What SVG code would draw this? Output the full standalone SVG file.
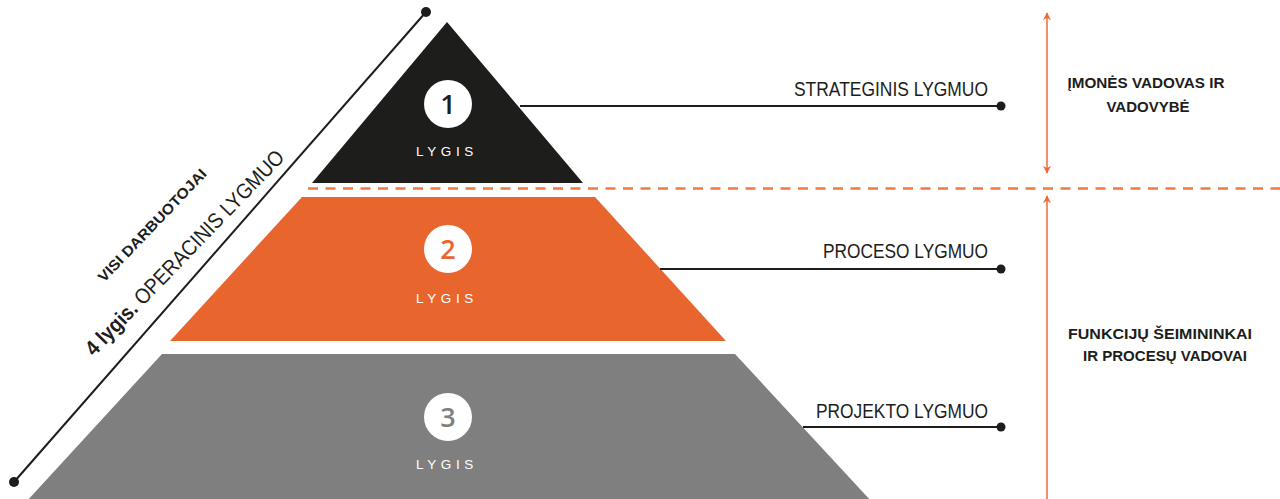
<svg xmlns="http://www.w3.org/2000/svg" width="1280" height="499" viewBox="0 0 1280 499">
<defs>
<style>
.lyg{font-family:"Liberation Sans",Arial,sans-serif;font-size:13.5px;fill:#ffffff;letter-spacing:4.6px;text-anchor:middle}
.num{font-family:"Open Sans","Liberation Sans",sans-serif;font-weight:600;font-size:27px;text-anchor:middle}
.lvl{font-family:"Liberation Sans",Arial,sans-serif;font-size:19.5px;fill:#1d1d1b;text-anchor:end}
.role{font-family:"Liberation Sans",Arial,sans-serif;font-size:15px;font-weight:bold;fill:#1d1d1b;text-anchor:middle}
.conn{stroke:#1d1d1b;stroke-width:2;fill:none}
.dot{fill:#1d1d1b}
.oarrow{stroke:#ec6a34;stroke-width:1.5;fill:none}
</style>
<marker id="ah" viewBox="0 0 10 10" refX="9" refY="5" markerWidth="8" markerHeight="8" markerUnits="userSpaceOnUse" orient="auto-start-reverse">
<path d="M0,0 L10,5 L0,10 L3,5 Z" fill="#ec6a34"/>
</marker>
</defs>
<rect width="1280" height="499" fill="#ffffff"/>

<g id="level1">
<polygon points="447,22 583,183 312,183" fill="#1d1d1b"/>
<circle cx="448" cy="104" r="24" fill="#ffffff"/>
<text class="num" x="448" y="113.5" fill="#1d1d1b">1</text>
<text class="lyg" x="447" y="156">LYGIS</text>
</g>

<g id="level2">
<polygon points="302,197 595,197 726,341 170,341" fill="#e9652e"/>
<circle cx="448" cy="249" r="24" fill="#ffffff"/>
<text class="num" x="448" y="258.5" fill="#e9652e">2</text>
<text class="lyg" x="447" y="302.5">LYGIS</text>
</g>

<g id="level3">
<polygon points="162,354 735,354 872,502 26,502" fill="#7f7f7f"/>
<circle cx="448" cy="417" r="24" fill="#ffffff"/>
<text class="num" x="448" y="426.5" fill="#7f7f7f">3</text>
<text class="lyg" x="447" y="469">LYGIS</text>
</g>

<g id="label-strateginis">
<text class="lvl" x="988" y="96" textLength="194" lengthAdjust="spacingAndGlyphs">STRATEGINIS LYGMUO</text>
</g>
<g id="label-proceso">
<text class="lvl" x="988" y="258" textLength="165" lengthAdjust="spacingAndGlyphs">PROCESO LYGMUO</text>
</g>
<g id="label-projekto">
<text class="lvl" x="988" y="418" textLength="172" lengthAdjust="spacingAndGlyphs">PROJEKTO LYGMUO</text>
</g>

<g id="role-top">
<text class="role" x="1146" y="88" textLength="157" lengthAdjust="spacingAndGlyphs">ĮMONĖS VADOVAS IR</text>
<text class="role" x="1148" y="112">VADOVYBĖ</text>
</g>
<g id="role-bottom">
<text class="role" x="1160" y="339" textLength="184" lengthAdjust="spacingAndGlyphs">FUNKCIJŲ ŠEIMININKAI</text>
<text class="role" x="1165" y="361" textLength="164" lengthAdjust="spacingAndGlyphs">IR PROCESŲ VADOVAI</text>
</g>

<g id="side-label">
<text transform="translate(104,283) rotate(-46.3)" font-family="Liberation Sans,Arial,sans-serif" font-size="14.5" font-weight="bold" fill="#1d1d1b" textLength="150" lengthAdjust="spacingAndGlyphs">VISI DARBUOTOJAI</text>
<text transform="translate(94,357) rotate(-46)" font-family="Liberation Sans,Arial,sans-serif" font-size="21.5" fill="#1d1d1b" textLength="276" lengthAdjust="spacingAndGlyphs"><tspan font-weight="bold">4 lygis.</tspan> OPERACINIS LYGMUO</text>
</g>

<g id="connectors">
<line class="conn" x1="14" y1="482" x2="426" y2="12"/>
<circle class="dot" cx="14" cy="482" r="5"/>
<circle class="dot" cx="426" cy="12" r="5"/>
<line class="conn" x1="520" y1="106" x2="1001" y2="106"/>
<circle class="dot" cx="1001" cy="106" r="4.5"/>
<line class="conn" x1="660" y1="269" x2="1001" y2="269"/>
<circle class="dot" cx="1001" cy="269" r="4.5"/>
<line class="conn" x1="803" y1="427" x2="1001" y2="427"/>
<circle class="dot" cx="1001" cy="427" r="4.5"/>
<line x1="308" y1="188.5" x2="1280" y2="188.5" stroke="#ef7a44" stroke-width="2.5" stroke-dasharray="10 7.5"/>
<line class="oarrow" x1="1047" y1="13" x2="1047" y2="173" marker-start="url(#ah)" marker-end="url(#ah)"/>
<line class="oarrow" x1="1047" y1="499" x2="1047" y2="196" marker-end="url(#ah)"/>
</g>
</svg>
